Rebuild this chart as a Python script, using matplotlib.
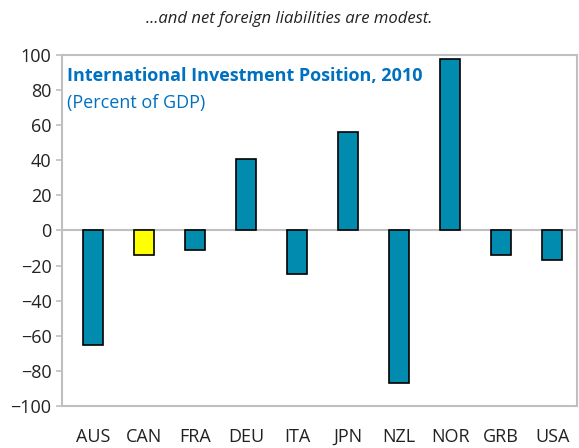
import numpy as np
import matplotlib.pyplot as plt

countries = ["AUS", "CAN", "FRA", "DEU", "ITA", "JPN", "NZL", "NOR", "GRB", "USA"]
iip = [-65, -14, -11, 41, -25, 56, -87, 98, -14, -17]
highlight = "CAN"

plt.rcParams['font.family'] = ['Open Sans', 'DejaVu Sans']

fig = plt.figure(figsize=(5.79, 4.48), dpi=100)
ax = fig.add_axes([0.107, 0.094, 0.89, 0.783])

x = np.arange(len(countries))
colors = ["#FFFF00" if c == highlight else "#008BAF" for c in countries]
ax.bar(x, iip, width=0.4, color=colors, edgecolor="black", linewidth=1.2, zorder=3)
ax.axhline(0, color="#BFBFBF", linewidth=1.5, zorder=2)

ax.set_xlim(-0.61, 9.49)
ax.set_ylim(-100, 100)
ax.set_yticks(np.arange(-100, 101, 20))
ax.set_xticks(x)
ax.set_xticklabels(countries)
ax.tick_params(axis="x", length=0, pad=16, labelsize=13, colors="#222222")
ax.tick_params(axis="y", length=4, width=1.2, color="#BFBFBF", labelsize=13,
               labelcolor="#222222", direction="out")
for s in ax.spines.values():
    s.set_color("#BFBFBF")
    s.set_linewidth(1.5)

ax.text(0.01, 0.965, "International Investment Position, 2010", transform=ax.transAxes,
        fontsize=13, fontweight="bold", color="#0070C0", va="top", ha="left")
ax.text(0.01, 0.89, "(Percent of GDP)", transform=ax.transAxes,
        fontsize=13, color="#0070C0", va="top", ha="left")

fig.text(0.5, 0.957, "...and net foreign liabilities are modest.", ha="center", va="center",
         fontsize=12, fontstyle="italic", color="#222222")

fig.savefig("out.png", dpi=100)
